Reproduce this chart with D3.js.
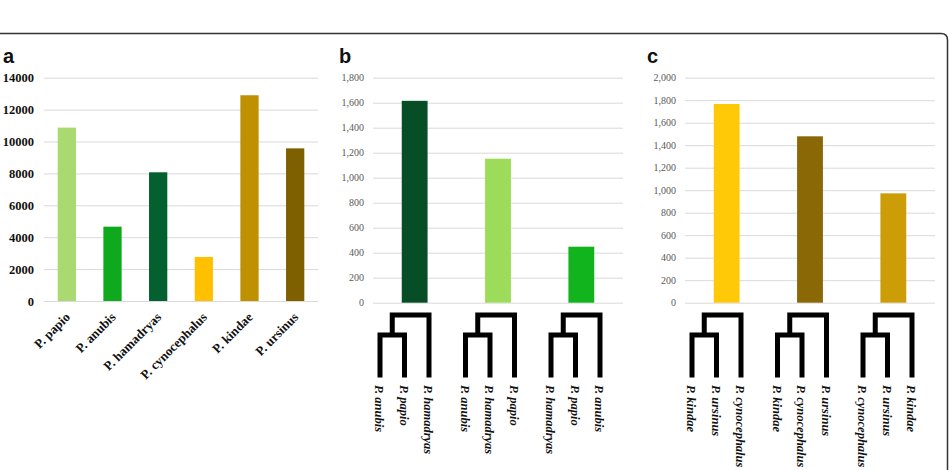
<!DOCTYPE html>
<html><head><meta charset="utf-8">
<script src="https://cdn.jsdelivr.net/npm/d3@7"></script>
<style>
body{margin:0;background:#fff;}
svg{display:block;}
</style></head>
<body>
<svg id="chart" width="949" height="470"></svg>
<script>
// ---------- DATA ----------
const aCategories = ["P. papio","P. anubis","P. hamadryas","P. cynocephalus","P. kindae","P. ursinus"];
const aValues = [10870, 4660, 8070, 2760, 12900, 9570];
const aColors = ["#A9D970","#0EA91C","#04602F","#FFC000","#BF9000","#7F6000"];
const aTicks = [0,2000,4000,6000,8000,10000,12000,14000];

const bCategories = ["T1","T2","T3"];
const bValues = [1615, 1152, 448];
const bColors = ["#074E27","#9DDC5A","#11B41C"];
const bTicks = [0,200,400,600,800,1000,1200,1400,1600,1800];
const bTrees = [["P. anubis","P. papio","P. hamadryas"],["P. anubis","P. hamadryas","P. papio"],["P. hamadryas","P. papio","P. anubis"]];

const cCategories = ["T1","T2","T3"];
const cValues = [1766, 1479, 972];
const cColors = ["#FFC907","#8A6805","#CC9D07"];
const cTicks = [0,200,400,600,800,1000,1200,1400,1600,1800,2000];
const cTrees = [["P. kindae","P. ursinus","P. cynocephalus"],["P. kindae","P. cynocephalus","P. ursinus"],["P. cynocephalus","P. ursinus","P. kindae"]];

// ---------- DRAW ----------
const SERIF = "'Liberation Serif', 'Times New Roman', serif";
const svg = d3.select("#chart");

// frame
svg.append("path").attr("d","M0,33.5 H941 Q947.5,33.5 947.5,40 V470")
  .attr("fill","none").attr("stroke","#333").attr("stroke-width",1.5);

function panelLabel(x, txt){
  svg.append("text").attr("x",x).attr("y",63).text(txt)
    .style("font-family","'Liberation Sans', Arial, sans-serif").attr("font-weight","bold")
    .attr("font-size",20).attr("fill","#111");
}
panelLabel(3,"a"); panelLabel(339,"b"); panelLabel(647,"c");

function gridAxis(g, y, x0, width, ticks, fmt, pad, fontSize, color, bold){
  const ax = d3.axisLeft(y).tickValues(ticks).tickFormat(fmt).tickSizeInner(-width).tickSizeOuter(0).tickPadding(pad);
  const gg = g.append("g").attr("transform",`translate(${x0},0)`).call(ax);
  gg.attr("font-family", SERIF);
  gg.select(".domain").remove();
  gg.selectAll(".tick line").attr("stroke","#d9d9d9").attr("stroke-width",1);
  gg.selectAll(".tick text").style("font-family",SERIF).style("font-size",fontSize+"px").attr("fill",color)
    .style("font-weight",bold?"bold":"normal");
  return gg;
}

// ---- panel a ----
{
  const g = svg.append("g");
  const x0 = 44, x1 = 318, yTop = 77.7, yBot = 301;
  const x = d3.scaleBand().domain(aCategories).range([x0,x1]).paddingInner(0.6).paddingOuter(0.3);
  const y = d3.scaleLinear().domain([0,14000]).range([yBot,yTop]);
  gridAxis(g, y, x0, x1-x0, aTicks, d3.format("d"), 10, 12.5, "#111", true);
  g.selectAll("rect").data(aValues).join("rect")
    .attr("x",(d,i)=>x(aCategories[i])).attr("width",x.bandwidth())
    .attr("y",d=>y(d)).attr("height",d=>yBot-y(d)).attr("fill",(d,i)=>aColors[i]);
  g.selectAll("text.xl").data(aCategories).join("text").attr("class","xl")
    .attr("transform",d=>`translate(${x(d)+x.bandwidth()/2+4},${yBot+17}) rotate(-45)`)
    .attr("text-anchor","end").style("font-family",SERIF).style("font-weight","bold").style("font-size","13px").attr("fill","#111")
    .text(d=>d);
}

function treePanel(x0, x1, yTop, yBot, cats, vals, colors, ticks, dmax, trees){
  const g = svg.append("g");
  const x = d3.scaleBand().domain(cats).range([x0,x1]).paddingInner(0.69).paddingOuter(0.345);
  const y = d3.scaleLinear().domain([0,dmax]).range([yBot,yTop]);
  gridAxis(g, y, x0, x1-x0, ticks, d3.format(","), 9, 10, "#595959", false);
  g.selectAll("rect").data(vals).join("rect")
    .attr("x",(d,i)=>x(cats[i])).attr("width",x.bandwidth())
    .attr("y",d=>y(d)).attr("height",d=>yBot-y(d)).attr("fill",(d,i)=>colors[i]);
  // dendrograms
  const grp = d3.scaleBand().domain(d3.range(trees.length)).range([x0, x0+85.5*trees.length]);
  const leaf = d3.scalePoint().domain([0,1,2]).range([7,56]);
  const ty = d3.scaleLinear().domain([0,1,3]).range([375,335,315]); // height levels
  trees.forEach((t,gi)=>{
    const lx = i => grp(gi)+leaf(i);
    const mid = (lx(0)+lx(1))/2;
    const p = d3.path();
    p.moveTo(lx(0),ty(0)); p.lineTo(lx(0),ty(1)); p.lineTo(lx(1),ty(1)); p.lineTo(lx(1),ty(0));
    p.moveTo(mid,ty(1)); p.lineTo(mid,ty(3)); p.lineTo(lx(2),ty(3)); p.lineTo(lx(2),ty(0));
    g.append("path").attr("d",p.toString()).attr("fill","none").attr("stroke","#000")
      .attr("stroke-width",5).attr("stroke-linecap","square").attr("stroke-linejoin","miter");
    t.forEach((name,i)=>{
      g.append("text")
        .attr("transform",`translate(${lx(i)-1},${ty(0)+10}) rotate(90)`)
        .attr("dy","0.32em").style("font-family",SERIF).style("font-size","12.5px").style("font-weight","bold").style("font-style","italic")
        .attr("fill","#111").text(name);
    });
  });
}
treePanel(373, 623, 77.7, 302.7, bCategories, bValues, bColors, bTicks, 1800, bTrees);
treePanel(685, 935, 77.7, 302.7, cCategories, cValues, cColors, cTicks, 2000, cTrees);
</script>
</body></html>
